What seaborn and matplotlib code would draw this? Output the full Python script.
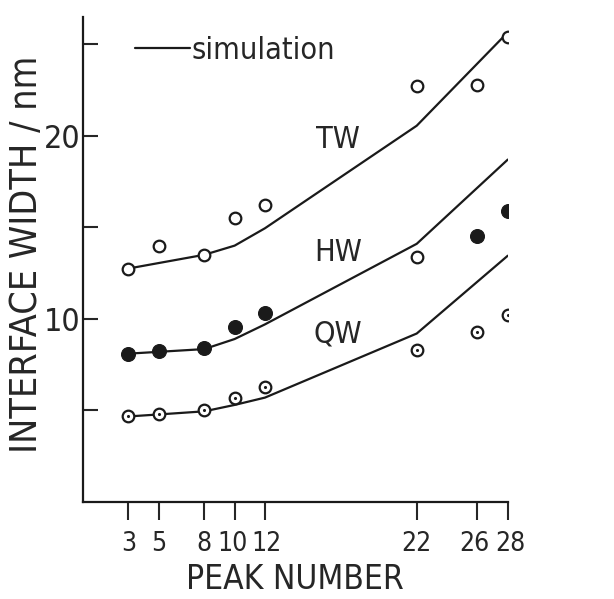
import pandas as pd
import matplotlib
matplotlib.use("Agg")
import matplotlib.pyplot as plt
import matplotlib.transforms as mtransforms
from matplotlib.lines import Line2D
import seaborn as sns

# peak numbers of the measured points
peaks = [3, 5, 8, 10, 12, 22, 26, 28]
tw_meas = [12.75, 14.0, 13.5, 15.5, 16.2, 22.7, 22.75, 25.4]
hw_meas = [8.1, 8.25, 8.4, 9.55, 10.3, 13.4, 14.55, 15.9]
hw_filled = [True, True, True, True, True, False, True, True]
qw_meas = [4.7, 4.8, 5.0, 5.7, 6.3, 8.3, 9.3, 10.2]

# simulation curves
sim_peaks = [3, 5, 8, 10, 12, 22, 28]
tw_sim = [12.75, 13.05, 13.5, 14.0, 14.95, 20.55, 25.65]
hw_sim = [8.1, 8.2, 8.35, 8.9, 9.7, 14.1, 18.7]
qw_sim = [4.67, 4.78, 4.95, 5.3, 5.7, 9.2, 13.45]

xticks = [3, 5, 8, 10, 12, 22, 26, 28]
yticks = [5, 10, 15, 20, 25]
ylabels = ["", "10", "", "20", ""]

sns.set_style("ticks")
plt.rcParams["font.family"] = ["DejaVu Sans"]
plt.rcParams["font.stretch"] = "condensed"

sim = pd.DataFrame({
    "peak": sim_peaks * 3,
    "width": tw_sim + hw_sim + qw_sim,
    "curve": ["TW"] * 7 + ["HW"] * 7 + ["QW"] * 7,
})

fig = plt.figure(figsize=(6.14, 5.99), dpi=100)
ax = fig.add_axes([0.135, 0.162, 0.692, 0.81])

sns.lineplot(data=sim, x="peak", y="width", units="curve", estimator=None,
             color="#1a1a1a", linewidth=1.6, ax=ax, legend=False)

# TW: open circles
sns.scatterplot(x=peaks, y=tw_meas, marker="o", s=70, facecolor="white",
                edgecolor="#1a1a1a", linewidth=1.6, ax=ax, zorder=3)

# HW: filled circles (one open)
hw = pd.DataFrame({"peak": peaks, "width": hw_meas, "filled": hw_filled})
sns.scatterplot(data=hw[hw.filled], x="peak", y="width", marker="o", s=100,
                color="#1a1a1a", edgecolor="#1a1a1a", ax=ax, zorder=3)
sns.scatterplot(data=hw[~hw.filled], x="peak", y="width", marker="o", s=70,
                facecolor="white", edgecolor="#1a1a1a", linewidth=1.6, ax=ax, zorder=3)

# QW: dotted circles
sns.scatterplot(x=peaks, y=qw_meas, marker="o", s=70, facecolor="white",
                edgecolor="#1a1a1a", linewidth=1.6, ax=ax, zorder=3)
sns.scatterplot(x=peaks, y=qw_meas, marker="o", s=5, color="#1a1a1a",
                linewidth=0, ax=ax, zorder=4)

ax.text(16.8, 19.8, "TW", fontsize=22, va="center", ha="center")
ax.text(16.8, 13.6, "HW", fontsize=22, va="center", ha="center")
ax.text(16.8, 9.2, "QW", fontsize=22, va="center", ha="center")

ax.legend(handles=[Line2D([], [], color="#1a1a1a", lw=1.6)], labels=["simulation"],
          loc="upper left", bbox_to_anchor=(0.057, 1.017), frameon=False,
          fontsize=22, handlelength=1.8, handletextpad=0.05)

ax.set_xlim(0, 28)
ax.set_ylim(0, 26.5)
ax.set_xticks(xticks)
ax.set_xticklabels([str(t) for t in xticks])
ax.set_yticks(yticks)
ax.set_yticklabels(ylabels)
ax.tick_params(axis="x", direction="out", length=13, width=1.5, labelsize=19, pad=8)
ax.tick_params(axis="y", direction="in", length=11, width=1.5, labelsize=23, pad=2)

# crowded tick labels pushed apart a little, like the original lettering
shifts = {10: -2, 12: 2, 26: -3, 28: 3}
for t, lab in zip(xticks, ax.get_xticklabels()):
    if t in shifts:
        lab.set_transform(lab.get_transform() +
                          mtransforms.ScaledTranslation(shifts[t] / 100, 0, fig.dpi_scale_trans))

ax.set_xlabel("PEAK NUMBER", fontsize=24, labelpad=4)
ax.set_ylabel("INTERFACE WIDTH / nm", fontsize=27)
ax.yaxis.set_label_coords(-0.088, 0.51)
for s in ["top", "right"]:
    ax.spines[s].set_visible(False)
for s in ["left", "bottom"]:
    ax.spines[s].set_linewidth(1.6)
    ax.spines[s].set_color("#1a1a1a")

fig.savefig("out.png", dpi=100, facecolor="white")
